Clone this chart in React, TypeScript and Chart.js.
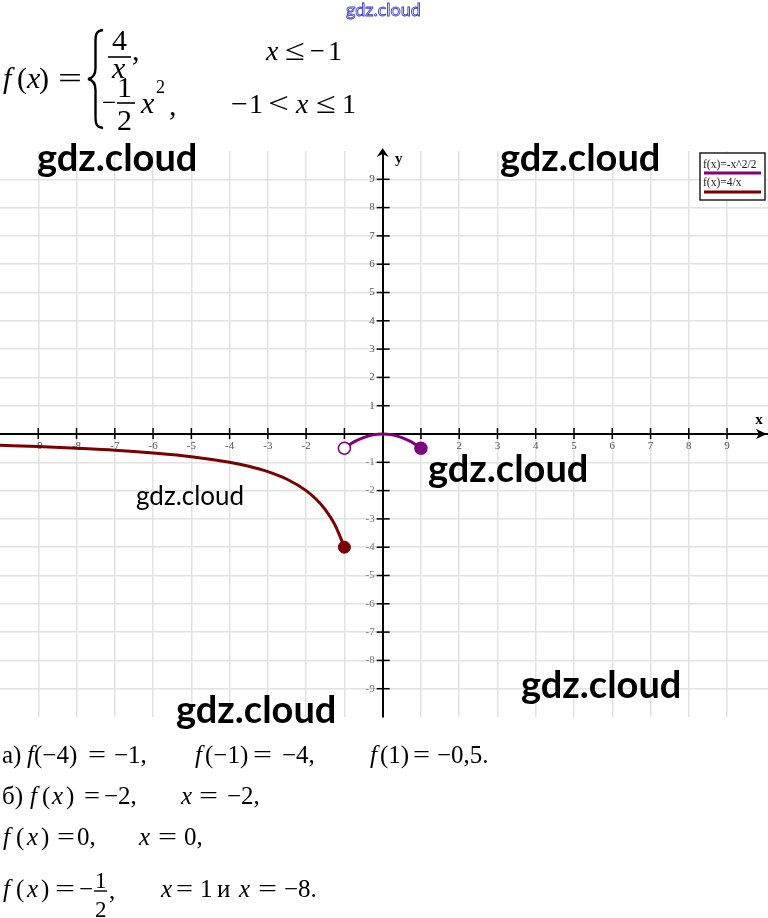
import React, { useEffect, useRef } from 'react';
import { Chart, registerables } from 'chart.js';

Chart.register(...registerables);

// ---- data ----
const hyperbolaX = [-10, -9, -8, -7, -6, -5, -4, -3.5, -3, -2.5, -2, -1.75, -1.5, -1.25, -1];
const hyperbolaY = [-0.4, -0.44, -0.5, -0.57, -0.67, -0.8, -1, -1.14, -1.33, -1.6, -2, -2.29, -2.67, -3.2, -4];
const parabolaX = [-1, -0.75, -0.5, -0.25, 0, 0.25, 0.5, 0.75, 1];
const parabolaY = [-0.5, -0.28, -0.13, -0.03, 0, -0.03, -0.13, -0.28, -0.5];
const seriesLabels = ['f(x)=-x^2/2', 'f(x)=4/x'];
const xAxisRange = [-10, 10.07];
const yAxisRange = [-10, 10];
const tickStep = 1;
const axisTitles = ['x', 'y'];

const PURPLE = '#800080';
const DARKRED = '#7a0000';
const GRID = '#e2e2e2';

const tickLabel = (v: number) => (v === 0 || Math.abs(v) >= 10 ? '' : String(v));

const decor = {
  id: 'decor',
  beforeDatasetsDraw(chart: any) {
    const { ctx, scales } = chart;
    const xs = scales.x;
    const ys = scales.y;
    const x0 = xs.getPixelForValue(0);
    const y0 = ys.getPixelForValue(0);
    ctx.save();
    ctx.strokeStyle = '#000';
    ctx.lineWidth = 1.5;
    ctx.font = '11px "Liberation Serif"';
    ctx.fillStyle = '#555';
    ctx.textAlign = 'center';
    ctx.textBaseline = 'top';
    xs.ticks.forEach((t: any) => {
      if (!t.label) return;
      const px = xs.getPixelForValue(t.value);
      ctx.beginPath();
      ctx.moveTo(px, y0 - 6);
      ctx.lineTo(px, y0 + 5);
      ctx.stroke();
      ctx.fillText(t.label, px, y0 + 7);
    });
    ctx.textAlign = 'right';
    ctx.textBaseline = 'middle';
    ys.ticks.forEach((t: any) => {
      if (!t.label) return;
      const py = ys.getPixelForValue(t.value);
      ctx.beginPath();
      ctx.moveTo(x0 - 6, py);
      ctx.lineTo(x0 + 7, py);
      ctx.stroke();
      ctx.fillStyle = t.value < 0 ? '#777' : '#555';
      ctx.fillText(t.label, x0 - 8, py);
    });
    ctx.restore();
  },
  afterDraw(chart: any) {
    const { ctx, scales, chartArea } = chart;
    const x0 = scales.x.getPixelForValue(0);
    const y0 = scales.y.getPixelForValue(0);
    ctx.save();
    // arrows
    ctx.fillStyle = '#000';
    const tx = chartArea.right - 1;
    ctx.beginPath();
    ctx.moveTo(tx, y0);
    ctx.lineTo(tx - 11, y0 - 5);
    ctx.lineTo(tx - 8, y0);
    ctx.lineTo(tx - 11, y0 + 5);
    ctx.closePath();
    ctx.fill();
    const ty = chartArea.top - 3;
    ctx.beginPath();
    ctx.moveTo(x0, ty);
    ctx.lineTo(x0 - 6, ty + 9);
    ctx.lineTo(x0, ty + 6);
    ctx.lineTo(x0 + 6, ty + 9);
    ctx.closePath();
    ctx.fill();
    // axis titles
    ctx.font = 'bold 15px "Liberation Serif"';
    ctx.textAlign = 'center';
    ctx.textBaseline = 'alphabetic';
    ctx.fillText(axisTitles[0], chartArea.right - 9, y0 - 10);
    ctx.fillText(axisTitles[1], x0 + 16, chartArea.top + 12);
    // legend box
    const bw = 65;
    const bh = 47;
    const bx = chartArea.right - 68;
    const by = chartArea.top + 2;
    ctx.fillStyle = '#fff';
    ctx.fillRect(bx, by, bw, bh);
    ctx.strokeStyle = '#222';
    ctx.lineWidth = 1.5;
    ctx.strokeRect(bx, by, bw, bh);
    ctx.font = '11.5px "Liberation Serif"';
    ctx.textAlign = 'left';
    chart.data.datasets.forEach((ds: any, i: number) => {
      ctx.fillStyle = '#222';
      ctx.fillText(ds.label, bx + 3, by + 15 + i * 18, bw - 5);
      ctx.strokeStyle = ds.borderColor;
      ctx.lineWidth = 3;
      ctx.beginPath();
      ctx.moveTo(bx + 4, by + 20 + i * 19);
      ctx.lineTo(bx + bw - 4, by + 20 + i * 19);
      ctx.stroke();
    });
    ctx.restore();
  },
};

const axisCommon = (range: number[], pos: any) => ({
  type: 'linear' as const,
  position: pos,
  min: range[0],
  max: range[1],
  afterFit: (s: any) => {
    s.paddingTop = 0;
    s.paddingBottom = 0;
    s.paddingLeft = 0;
    s.paddingRight = 0;
  },
  ticks: {
    display: false,
    stepSize: tickStep,
    includeBounds: false,
    autoSkip: false,
    callback: (v: any) => tickLabel(Number(v)),
  },
  grid: {
    drawTicks: false,
    lineWidth: 1.5,
    color: (c: any) => (c.tick && Math.abs(c.tick.value) >= 10 ? 'rgba(0,0,0,0)' : GRID),
  },
  border: { color: '#000', width: 2 },
});

type Tok = [string, number, number, number, number?, number?];
// text, x, baseline, size, italic(1), stretch width

const formulaToks: Tok[] = [
  ['f', 3, 88, 30, 1],
  ['(', 17, 88, 30],
  ['x', 27, 88, 30, 1],
  [')', 39, 88, 30],
  ['=', 58, 88, 30, 0, 24],
  ['4', 112, 50, 30],
  ['x', 112, 78, 30, 1],
  [',', 132, 60, 30],
  ['x', 266, 60, 28, 1],
  ['≤', 285, 60, 30, 0, 20],
  ['−', 310, 60, 28, 0, 15],
  ['1', 328, 60, 28],
  ['−', 102, 111, 26],
  ['1', 117, 97, 30],
  ['2', 117, 130, 30],
  ['x', 141, 113, 30, 1],
  ['2', 156, 93, 18],
  [',', 169, 115, 30],
  ['−', 231, 113, 28, 0, 17],
  ['1', 249, 113, 28],
  ['<', 268, 113, 30, 0, 21],
  ['x', 296, 113, 28, 1],
  ['≤', 316, 113, 30, 0, 20],
  ['1', 342, 113, 28],
];

const answerToks: Tok[] = [
  ['а)', 2, 763, 25],
  ['f', 27, 763, 25, 1],
  ['(−4)', 34, 763, 25],
  ['=', 88, 763, 25, 0, 18],
  ['−1,', 114, 763, 25],
  ['f', 195, 763, 25, 1],
  ['(−1)', 205, 763, 25],
  ['=', 253, 763, 25, 0, 19],
  ['−4,', 282, 763, 25],
  ['f', 370, 763, 25, 1],
  ['(1)', 380, 763, 25],
  ['=', 413, 763, 25, 0, 17],
  ['−0,5.', 437, 763, 25],
  ['б)', 2, 804, 25],
  ['f', 30, 804, 25, 1],
  ['(', 42, 804, 25],
  ['x', 52, 804, 25, 1],
  [')', 66, 804, 25],
  ['=', 84, 804, 25, 0, 16],
  ['−2,', 104, 804, 25],
  ['x', 181, 804, 25, 1],
  ['=', 199, 804, 25, 0, 19],
  ['−2,', 227, 804, 25],
  ['f', 3, 845, 25, 1],
  ['(', 16, 845, 25],
  ['x', 27, 845, 25, 1],
  [')', 41, 845, 25],
  ['=', 57, 845, 25, 0, 18],
  ['0,', 77, 845, 25],
  ['x', 139, 845, 25, 1],
  ['=', 158, 845, 25, 0, 19],
  ['0,', 184, 845, 25],
  ['f', 3, 897, 25, 1],
  ['(', 16, 897, 25],
  ['x', 27, 897, 25, 1],
  [')', 41, 897, 25],
  ['=', 55, 897, 25, 0, 20],
  ['−', 79, 897, 25],
  ['1', 95, 888, 23],
  ['2', 95, 917, 23],
  [',', 109, 899, 25],
  ['x', 161, 897, 25, 1],
  ['=', 176, 897, 25, 0, 17],
  ['1', 200, 897, 25],
  ['и', 217, 897, 25],
  ['x', 239, 897, 25, 1],
  ['=', 258, 897, 25, 0, 19],
  ['−8.', 284, 897, 25],
];

// watermark: text, x, baseline, size, weight
const marks: [string, number, number, number, number][] = [
  ['gdz.cloud', 37, 171, 38, 700],
  ['gdz.cloud', 500, 171, 38, 700],
  ['gdz.cloud', 428, 482, 38, 700],
  ['gdz.cloud', 136, 505, 26, 400],
  ['gdz.cloud', 521, 698, 38, 700],
  ['gdz.cloud', 176, 723, 38, 700],
];

function Toks({ toks }: { toks: Tok[] }) {
  return (
    <>
      {toks.map((t, i) => (
        <text
          key={i}
          x={t[1]}
          y={t[2]}
          fontSize={t[3]}
          fontStyle={t[4] ? 'italic' : 'normal'}
          fontFamily='"Liberation Serif", serif'
          fill="#000"
          {...(t[5] ? { textLength: t[5], lengthAdjust: 'spacingAndGlyphs' } : {})}
        >
          {t[0]}
        </text>
      ))}
    </>
  );
}

export default function App() {
  const ref = useRef<HTMLCanvasElement | null>(null);
  useEffect(() => {
    const canvas = ref.current;
    if (!canvas) return;
    const last = hyperbolaX.length - 1;
    const plast = parabolaX.length - 1;
    const chart = new Chart(canvas, {
      type: 'scatter',
      data: {
        datasets: [
          {
            label: seriesLabels[0],
            data: parabolaX.map((x, i) => ({ x, y: parabolaY[i] })),
            showLine: true,
            borderColor: PURPLE,
            borderWidth: 3,
            cubicInterpolationMode: 'monotone',
            pointRadius: (c: any) => (c.dataIndex === 0 || c.dataIndex === plast ? 6 : 0),
            pointBackgroundColor: (c: any) => (c.dataIndex === 0 ? '#fff' : PURPLE),
            pointBorderColor: PURPLE,
            pointBorderWidth: 1.5,
          },
          {
            label: seriesLabels[1],
            data: hyperbolaX.map((x, i) => ({ x, y: hyperbolaY[i] })),
            showLine: true,
            borderColor: DARKRED,
            borderWidth: 3,
            cubicInterpolationMode: 'monotone',
            pointRadius: (c: any) => (c.dataIndex === last ? 6 : 0),
            pointBackgroundColor: DARKRED,
            pointBorderColor: DARKRED,
            pointBorderWidth: 1,
          },
        ],
      } as any,
      options: {
        animation: false,
        responsive: false,
        maintainAspectRatio: false,
        layout: { autoPadding: false, padding: { top: 11, bottom: 13, left: 0, right: 0 } },
        plugins: { legend: { display: false }, tooltip: { enabled: false } },
        scales: {
          x: axisCommon(xAxisRange, { y: 0 }),
          y: axisCommon(yAxisRange, { x: 0 }),
        } as any,
      } as any,
      plugins: [decor],
    });
    return () => chart.destroy();
  }, []);

  return (
    <div
      style={{
        position: 'absolute',
        left: 0,
        top: 0,
        width: 768,
        height: 918,
        background: '#fff',
        overflow: 'hidden',
      }}
    >
      <canvas
        ref={ref}
        width={768}
        height={590}
        style={{ position: 'absolute', left: 0, top: 140, width: 768, height: 590 }}
      />
      <svg
        width={768}
        height={918}
        style={{ position: 'absolute', left: 0, top: 0, pointerEvents: 'none' }}
      >
        <text
          x={346}
          y={16}
          fontSize={18}
          fontFamily="Lato, sans-serif"
          fill="#fff"
          stroke="#3a3ac8"
          strokeWidth={0.9}
        >
          gdz.cloud
        </text>
        <path
          d="M103,30 C95,31 95.5,36 95.5,44 L95.5,68 C95.5,75 93,78 88,79 C93,80 95.5,83 95.5,90 L95.5,114 C95.5,122 95,127 103,128"
          fill="none"
          stroke="#000"
          strokeWidth={2.4}
        />
        <line x1={108} y1={57} x2={131} y2={57} stroke="#000" strokeWidth={1.6} />
        <line x1={117} y1={103} x2={135} y2={103} stroke="#000" strokeWidth={1.6} />
        <line x1={94} y1={891} x2={107} y2={891} stroke="#000" strokeWidth={1.4} />
        <Toks toks={formulaToks} />
        <Toks toks={answerToks} />
        {marks.map((m, i) => (
          <text
            key={'m' + i}
            x={m[1]}
            y={m[2]}
            fontSize={m[3]}
            fontWeight={m[4]}
            fontFamily="Lato, sans-serif"
            fill="#000"
          >
            {m[0]}
          </text>
        ))}
      </svg>
    </div>
  );
}
